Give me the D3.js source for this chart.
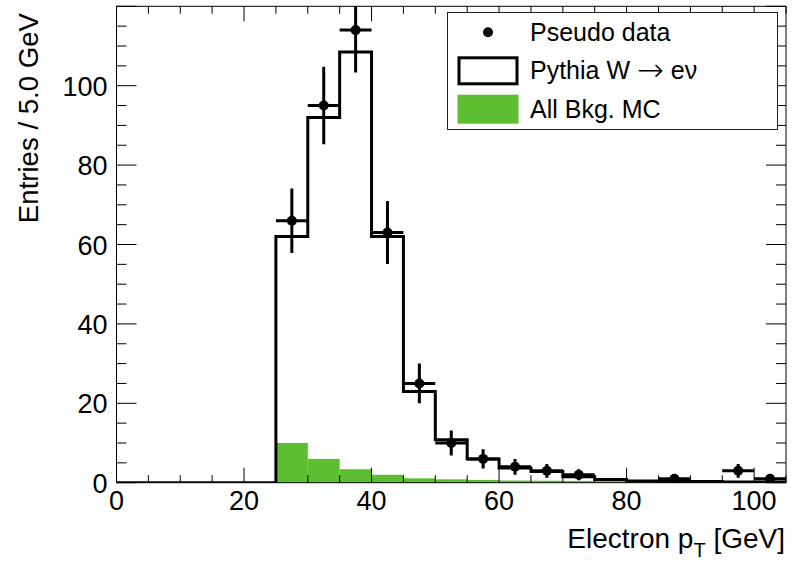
<!DOCTYPE html>
<html>
<head>
<meta charset="utf-8">
<script src="https://cdn.jsdelivr.net/npm/d3@7"></script>
<style>
  html, body { margin: 0; padding: 0; background: #fff; }
  svg { display: block; font-family: "Liberation Sans", Arial, Helvetica, sans-serif; }
</style>
</head>
<body>
<svg id="chart" width="798" height="565"></svg>
<script>
// Histogram binning: 5 GeV bins from 0 to 105 GeV (lower edges)
const binLow = [0, 5, 10, 15, 20, 25, 30, 35, 40, 45, 50, 55, 60, 65, 70, 75, 80, 85, 90, 95, 100];
const binWidth = 5;

// Pythia W -> e nu prediction (outlined histogram)
const pythiaW = [0, 0, 0, 0, 0, 62, 92, 108.5, 62, 23, 10.8, 6, 3.7, 2.8, 1.5, 0.8, 0.4, 0.3, 0.3, 0.2, 0.2];
// All background MC (filled histogram)
const bkgMC = [0, 0, 0, 0, 0, 10, 6, 3.4, 2, 1.1, 0.85, 0.7, 0.55, 0.5, 0.45, 0.4, 0.4, 0.35, 0.35, 0.3, 0.3];
// Pseudo data counts per bin
const pseudoData = [0, 0, 0, 0, 0, 66, 95, 114, 63, 25, 10, 6, 4, 3, 2, 0, 0, 1, 0, 3, 1];

// Axis tick values
const xMajorTicks = [0, 20, 40, 60, 80, 100];
const yMajorTicks = [0, 20, 40, 60, 80, 100];

// Legend entries; the W label is split so the arrow can use a math-style glyph
const legendLabels = ["Pseudo data", ["Pythia W ", "\u2192", " e\u03bd"], "All Bkg. MC"];

const green = "#5dbe32";

const svg = d3.select("#chart");
const frame = { left: 116.5, right: 786, top: 6.3, bottom: 482.7 };

const x = d3.scaleLinear().domain([0, 105]).range([frame.left, frame.right]);
const y = d3.scaleLinear().domain([0, 120]).range([frame.bottom, frame.top]);

svg.append("defs").append("clipPath").attr("id", "plotClip")
  .append("rect")
  .attr("x", frame.left).attr("y", frame.top)
  .attr("width", frame.right - frame.left).attr("height", frame.bottom - frame.top);

const plot = svg.append("g").attr("clip-path", "url(#plotClip)");

// Background MC as filled bins
plot.selectAll("rect.bkg")
  .data(binLow.map((lo, i) => ({ lo, v: bkgMC[i] })).filter(d => d.v > 0))
  .join("rect")
  .attr("class", "bkg")
  .attr("x", d => x(d.lo))
  .attr("y", d => y(d.v))
  .attr("width", d => x(d.lo + binWidth) - x(d.lo))
  .attr("height", d => y(0) - y(d.v))
  .attr("fill", green);

// Signal histogram outline as a step line
const stepPts = [];
binLow.forEach((lo, i) => {
  stepPts.push([lo, pythiaW[i]]);
  stepPts.push([lo + binWidth, pythiaW[i]]);
});
const stepLine = d3.line().x(d => x(d[0])).y(d => y(d[1]));
plot.append("path")
  .attr("d", stepLine(stepPts))
  .attr("fill", "none")
  .attr("stroke", "#000")
  .attr("stroke-width", 3)
  .attr("stroke-linejoin", "miter");

// Pseudo data: markers with Poisson errors and bin-width bars
const pts = binLow.map((lo, i) => ({ lo, n: pseudoData[i] })).filter(d => d.n > 0);
const dataG = plot.append("g");
pts.forEach(d => {
  const cx = x(d.lo + binWidth / 2);
  const err = Math.sqrt(d.n);
  dataG.append("line")
    .attr("x1", x(d.lo)).attr("x2", x(d.lo + binWidth))
    .attr("y1", y(d.n)).attr("y2", y(d.n))
    .attr("stroke", "#000").attr("stroke-width", 3);
  dataG.append("line")
    .attr("x1", cx).attr("x2", cx)
    .attr("y1", y(d.n - err)).attr("y2", y(d.n + err))
    .attr("stroke", "#000").attr("stroke-width", 3);
  dataG.append("circle")
    .attr("cx", cx).attr("cy", y(d.n)).attr("r", 5)
    .attr("fill", "#000");
});

// Frame
svg.append("rect")
  .attr("x", frame.left).attr("y", frame.top)
  .attr("width", frame.right - frame.left).attr("height", frame.bottom - frame.top)
  .attr("fill", "none").attr("stroke", "#000").attr("stroke-width", 1);

// Ticks on all four sides
const ticksG = svg.append("g").attr("stroke", "#000").attr("stroke-width", 1);
const xMinor = d3.range(0, 105.001, 5);
xMinor.forEach(v => {
  const major = xMajorTicks.includes(v);
  const len = major ? 15 : 7.5;
  ticksG.append("line").attr("x1", x(v)).attr("x2", x(v))
    .attr("y1", frame.bottom).attr("y2", frame.bottom - len);
  ticksG.append("line").attr("x1", x(v)).attr("x2", x(v))
    .attr("y1", frame.top).attr("y2", frame.top + len);
});
const yMinor = d3.range(0, 120.001, 5);
yMinor.forEach(v => {
  const major = yMajorTicks.includes(v) || v === 120;
  const len = major ? 20 : 10;
  ticksG.append("line").attr("y1", y(v)).attr("y2", y(v))
    .attr("x1", frame.left).attr("x2", frame.left + len);
  ticksG.append("line").attr("y1", y(v)).attr("y2", y(v))
    .attr("x1", frame.right).attr("x2", frame.right - len);
});

// Tick labels
const labelSize = 27;
svg.append("g").selectAll("text")
  .data(xMajorTicks)
  .join("text")
  .attr("x", d => x(d)).attr("y", 510)
  .attr("text-anchor", "middle")
  .attr("font-size", labelSize)
  .text(d => d);
svg.append("g").selectAll("text")
  .data(yMajorTicks)
  .join("text")
  .attr("x", 107.5).attr("y", d => y(d) + 10)
  .attr("text-anchor", "end")
  .attr("font-size", labelSize)
  .text(d => d);

// Axis titles
const xTitle = svg.append("text")
  .attr("x", 785).attr("y", 548)
  .attr("text-anchor", "end")
  .attr("font-size", 28);
xTitle.append("tspan").text("Electron p");
xTitle.append("tspan").attr("dy", 9).attr("font-size", 20).text("T");
xTitle.append("tspan").attr("dy", -9).text(" [GeV]");

svg.append("text")
  .attr("transform", "translate(38,13) rotate(-90)")
  .attr("text-anchor", "end")
  .attr("font-size", 27.6)
  .text("Entries / 5.0 GeV");

// Legend
const lg = svg.append("g");
lg.append("rect")
  .attr("x", 447.5).attr("y", 12.5).attr("width", 330).attr("height", 117)
  .attr("fill", "#fff").attr("stroke", "#222").attr("stroke-width", 1);
const rowY = [32.3, 70.8, 109.2];
lg.append("circle").attr("cx", 488).attr("cy", rowY[0]).attr("r", 5).attr("fill", "#000");
lg.append("rect").attr("x", 459).attr("y", rowY[1] - 13).attr("width", 58).attr("height", 26)
  .attr("fill", "#fff").attr("stroke", "#000").attr("stroke-width", 3);
lg.append("rect").attr("x", 457.5).attr("y", rowY[2] - 14.5).attr("width", 61).attr("height", 29)
  .attr("fill", green);
legendLabels.forEach((lab, i) => {
  const t = lg.append("text")
    .attr("x", 530).attr("y", rowY[i] + 8.5)
    .attr("font-size", 25);
  if (Array.isArray(lab)) {
    t.append("tspan").text(lab[0]);
    t.append("tspan").attr("font-family", "DejaVu Sans").attr("font-weight", 200)
      .attr("font-size", 32).attr("dy", 1.5).text(lab[1]);
    t.append("tspan").attr("dy", -1.5).text(lab[2]);
  } else {
    t.text(lab);
  }
});
</script>
</body>
</html>
